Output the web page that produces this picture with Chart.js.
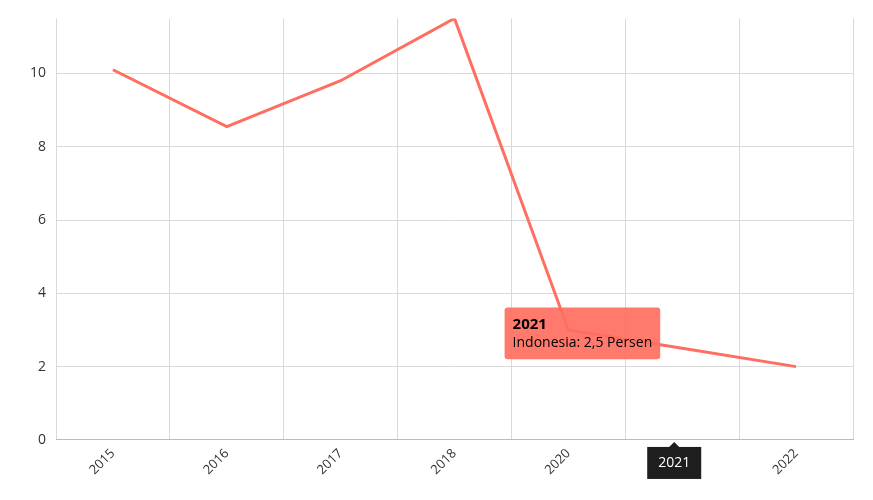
<!DOCTYPE html>
<html><head><meta charset="utf-8">
<script src="https://cdn.jsdelivr.net/npm/chart.js@4"></script>
<style>html,body{margin:0;padding:0;background:#fff}#w{width:873px;height:500px}</style>
</head><body><div id="w"><canvas id="c"></canvas></div>
<script>
const categories = ['2015','2016','2017','2018','2020','2021','2022'];
const seriesName = 'Indonesia';
const values = [10.1, 8.55, 9.8, 11.5, 3.0, 2.5, 2.0];
const activeIndex = 5;
const fontFam = "'Open Sans', 'Noto Sans', sans-serif";

Chart.Tooltip.positioners.leftOf = function(items) {
  if (!items.length) return false;
  const el = items[0].element;
  return { x: el.x - 20, y: el.y - 15, xAlign: 'right', yAlign: 'center' };
};

const highlightPlugin = {
  id: 'hl',
  afterDraw(chart) {
    const xs = chart.scales.x, ctx = chart.ctx;
    const x = xs.getPixelForTick(activeIndex) - 8;
    const y = xs.top + 7;
    ctx.save();
    ctx.fillStyle = '#1e1e1e';
    ctx.beginPath();
    ctx.moveTo(x - 5, y); ctx.lineTo(x, y - 5); ctx.lineTo(x + 5, y); ctx.fill();
    ctx.fillRect(x - 27, y, 54, 32);
    ctx.fillStyle = '#fff';
    ctx.font = "14px " + fontFam;
    ctx.textAlign = 'center'; ctx.textBaseline = 'middle';
    ctx.fillText(categories[activeIndex], x, y + 16);
    ctx.restore();
  }
};

const chart = new Chart(document.getElementById('c'), {
  type: 'line',
  data: { labels: categories, datasets: [{ label: seriesName, data: values,
    borderColor: '#ff6f61', borderWidth: 3, pointRadius: 0, pointHoverRadius: 0, tension: 0 }] },
  options: {
    responsive: true, maintainAspectRatio: false, animation: false,
    layout: { padding: { left: 20, right: 20, top: 18, bottom: 16 } },
    plugins: {
      legend: { display: false },
      tooltip: {
        position: 'leftOf',
        backgroundColor: 'rgba(255,111,97,0.92)', titleColor: '#000', bodyColor: '#000',
        titleFont: { family: fontFam, size: 15, weight: 'bold' },
        bodyFont: { family: fontFam, size: 14 },
        displayColors: false, caretSize: 0, cornerRadius: 3, padding: 8, titleMarginBottom: 1,
        callbacks: { label: (c) => c.dataset.label + ': ' + String(c.parsed.y).replace('.', ',') + ' Persen' }
      }
    },
    scales: {
      x: { offset: true, grid: { offset: true, color: '#d9d9d9', drawTicks: false },
        border: { color: '#bbb' },
        ticks: { maxRotation: 45, minRotation: 45, padding: 6, color: '#333', font: { family: fontFam, size: 13 } } },
      y: { beginAtZero: true, max: 11.5, grid: { color: '#d9d9d9', drawTicks: false },
        border: { display: false },
        afterBuildTicks: (s) => { s.ticks = s.ticks.filter(t => t.value % 2 === 0); },
        ticks: { padding: 10, color: '#333', font: { family: fontFam, size: 14 } } }
    }
  },
  plugins: [highlightPlugin]
});
const meta = chart.getDatasetMeta(0).data[activeIndex];
chart.tooltip.setActiveElements([{ datasetIndex: 0, index: activeIndex }], { x: meta.x, y: meta.y });
chart.update('none');
</script></body></html>
